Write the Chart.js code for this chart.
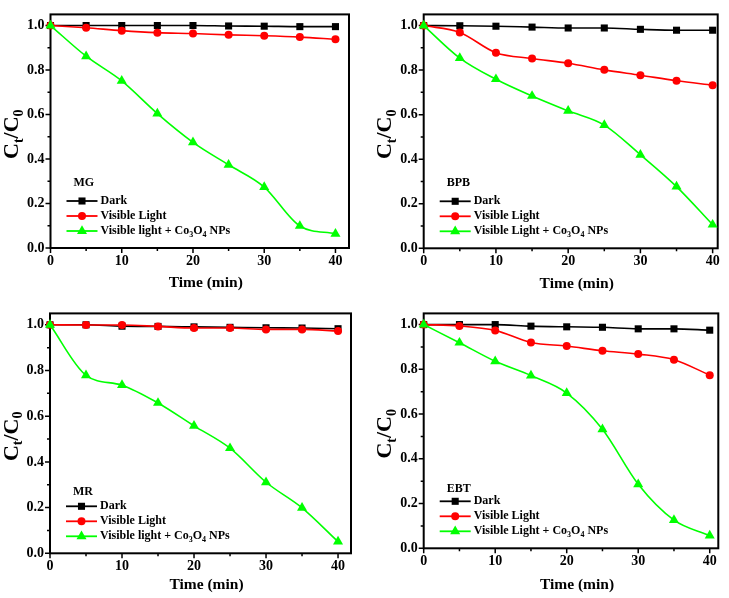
<!DOCTYPE html>
<html>
<head>
<meta charset="utf-8">
<script src="https://cdn.jsdelivr.net/npm/chart.js@4.4.0/dist/chart.umd.min.js"></script>
<style>
body { margin: 0; background: #fff; }
#wrap { position: relative; width: 729px; height: 598px; overflow: hidden; }
canvas { position: absolute; }
</style>
</head>
<body>
<div id="wrap">
<canvas id="pMG" width="364" height="299" style="left:0;top:0"></canvas>
<canvas id="pBPB" width="364" height="299" style="left:365px;top:0"></canvas>
<canvas id="pMR" width="364" height="299" style="left:0;top:299px"></canvas>
<canvas id="pEBT" width="364" height="299" style="left:365px;top:299px"></canvas>
</div>
<script>
const times = [0, 5, 10, 15, 20, 25, 30, 35, 40];

const mgDark = [1.0, 1.0, 1.0, 1.0, 1.0, 0.998, 0.997, 0.995, 0.995];
const mgLight = [1.0, 0.99, 0.977, 0.968, 0.964, 0.958, 0.954, 0.948, 0.938];
const mgCatalyst = [1.0, 0.862, 0.751, 0.604, 0.475, 0.374, 0.274, 0.099, 0.064];

const bpbDark = [1.0, 0.999, 0.997, 0.993, 0.989, 0.989, 0.983, 0.979, 0.979];
const bpbLight = [1.0, 0.969, 0.878, 0.852, 0.831, 0.801, 0.777, 0.752, 0.732];
const bpbCatalyst = [1.0, 0.854, 0.759, 0.684, 0.617, 0.553, 0.42, 0.277, 0.106];

const mrDark = [1.0, 1.0, 0.994, 0.993, 0.991, 0.989, 0.987, 0.986, 0.983];
const mrLight = [1.0, 0.999, 0.999, 0.993, 0.986, 0.986, 0.98, 0.98, 0.973];
const mrCatalyst = [1.0, 0.779, 0.736, 0.658, 0.558, 0.46, 0.311, 0.199, 0.051];

const ebtDark = [1.0, 1.0, 1.0, 0.993, 0.99, 0.988, 0.981, 0.981, 0.975];
const ebtLight = [1.0, 0.994, 0.974, 0.92, 0.904, 0.883, 0.868, 0.843, 0.774];
const ebtCatalyst = [1.0, 0.919, 0.836, 0.772, 0.694, 0.532, 0.286, 0.126, 0.057];

const xTicks = [0, 10, 20, 30, 40];
const xMinorTicks = [5, 15, 25, 35];
const yTicks = [0, 0.2, 0.4, 0.6, 0.8, 1.0];
const yMinorTicks = [0.1, 0.3, 0.5, 0.7, 0.9];

const xTitle = 'Time (min)';
const yTitle = 'C_{t}/C_{0}';
const darkLabel = 'Dark';
const lightLabel = 'Visible Light';

const FONT = '"Liberation Serif", "Times New Roman", serif';

function richText(ctx, str, x, y, size, draw) {
    let cx = x;
    str.split(/(_\{[^}]*\})/).forEach(p => {
        if (!p) return;
        if (p.startsWith('_{')) {
            let t = p.slice(2, -1);
            ctx.font = `bold ${Math.round(size * 0.64)}px ${FONT}`;
            if (draw) ctx.fillText(t, cx, y + size * 0.3);
            cx += ctx.measureText(t).width;
        } else {
            ctx.font = `bold ${size}px ${FONT}`;
            if (draw) ctx.fillText(p, cx, y);
            cx += ctx.measureText(p).width;
        }
    });
    return cx - x;
}

function marker(ctx, style, x, y, r, color) {
    ctx.fillStyle = color;
    ctx.beginPath();
    if (style === 'rect') {
        let s = Math.SQRT1_2 * r;
        ctx.rect(x - s, y - s, 2 * s, 2 * s);
    } else if (style === 'circle') {
        ctx.arc(x, y, r, 0, Math.PI * 2);
    } else {
        ctx.moveTo(x, y - r);
        ctx.lineTo(x + r * 0.866, y + r / 2);
        ctx.lineTo(x - r * 0.866, y + r / 2);
        ctx.closePath();
    }
    ctx.fill();
}

const panelDeco = {
    id: 'panelDeco',
    beforeDatasetsDraw(chart) {
        const { ctx, chartArea: a, scales: { x, y } } = chart;
        ctx.save();
        ctx.strokeStyle = '#000';
        ctx.lineWidth = 1.5;
        ctx.beginPath();
        xTicks.forEach(v => { let px = x.getPixelForValue(v); ctx.moveTo(px, a.bottom); ctx.lineTo(px, a.bottom + 5); });
        xMinorTicks.forEach(v => { let px = x.getPixelForValue(v); ctx.moveTo(px, a.bottom); ctx.lineTo(px, a.bottom + 3); });
        yTicks.forEach(v => { let py = y.getPixelForValue(v); ctx.moveTo(a.left, py); ctx.lineTo(a.left - 5, py); });
        yMinorTicks.forEach(v => { let py = y.getPixelForValue(v); ctx.moveTo(a.left, py); ctx.lineTo(a.left - 3, py); });
        ctx.stroke();
        ctx.lineWidth = 2;
        ctx.strokeRect(a.left, a.top, a.right - a.left, a.bottom - a.top);
        ctx.restore();
    },
    afterDraw(chart, args, opts) {
        const { ctx, chartArea: a } = chart;
        ctx.save();
        ctx.fillStyle = '#000';
        ctx.textBaseline = 'middle';

        // axis titles
        let w = richText(ctx, xTitle, 0, 0, 15.5, false);
        richText(ctx, xTitle, (a.left + a.right) / 2 + 6 - w / 2, a.bottom + opts.xTitleGap, 15.5, true);
        ctx.save();
        ctx.translate(a.left - 38, (a.top + a.bottom) / 2 + 3);
        ctx.rotate(-Math.PI / 2);
        w = richText(ctx, yTitle, 0, 0, 22, false);
        richText(ctx, yTitle, -w / 2, 0, 22, true);
        ctx.restore();

        // legend inside the plot
        let lx = a.left + 16;
        ctx.fillStyle = '#000';
        richText(ctx, opts.name, lx + 7, a.bottom - opts.nameGap, 12, true);
        chart.data.datasets.forEach((ds, i) => {
            let ly = a.bottom - 47 + i * 15;
            ctx.strokeStyle = ds.borderColor;
            ctx.lineWidth = 1.8;
            ctx.beginPath();
            ctx.moveTo(lx, ly);
            ctx.lineTo(lx + 31, ly);
            ctx.stroke();
            marker(ctx, ds.pointStyle, lx + 15.5, ly, ds.pointRadius, ds.borderColor);
            ctx.fillStyle = '#000';
            richText(ctx, ds.label, lx + 34, ly, 12, true);
        });
        ctx.restore();
    }
};

function pts(vals) {
    return times.map((t, i) => ({ x: t, y: vals[i] }));
}

function makePanel(id, p) {
    const data = {
        datasets: [
            { label: darkLabel, data: pts(p.dark), borderColor: '#000000', backgroundColor: '#000000', pointStyle: 'rect', pointRadius: 5, order: 3 },
            { label: lightLabel, data: pts(p.light), borderColor: '#ff0000', backgroundColor: '#ff0000', pointStyle: 'circle', pointRadius: 4, order: 2 },
            { label: p.catLabel, data: pts(p.cat), borderColor: '#00ff00', backgroundColor: '#00ff00', pointStyle: 'triangle', pointRadius: 5.8, order: 1 }
        ]
    };
    data.datasets.forEach(ds => {
        ds.borderWidth = 1.6;
        ds.pointBorderWidth = 0;
        ds.cubicInterpolationMode = 'monotone';
        ds.clip = false;
    });

    const config = {
        type: 'line',
        data: data,
        options: {
            responsive: false,
            animation: false,
            events: [],
            layout: { padding: { left: 0, top: p.area.top, right: 364 - p.area.right, bottom: 0 } },
            plugins: {
                legend: { display: false },
                tooltip: { enabled: false },
                panelDeco: { name: p.name, nameGap: p.nameGap, xTitleGap: p.xTitleGap }
            },
            scales: {
                x: {
                    type: 'linear',
                    min: 0,
                    max: p.xMax,
                    afterBuildTicks: s => { s.ticks = xTicks.map(v => ({ value: v })); },
                    afterFit: s => { s.height = 299 - p.area.bottom; },
                    grid: { display: false, drawTicks: false },
                    border: { display: false },
                    ticks: { color: '#000', padding: 5, maxRotation: 0, font: { family: FONT, size: 14, weight: 'bold' } }
                },
                y: {
                    min: 0,
                    max: 1.05,
                    afterBuildTicks: s => { s.ticks = yTicks.map(v => ({ value: v })); },
                    afterFit: s => { s.width = p.area.left; },
                    grid: { display: false, drawTicks: false },
                    border: { display: false },
                    ticks: { color: '#000', padding: 6, callback: v => v.toFixed(1), font: { family: FONT, size: 14, weight: 'bold' } }
                }
            }
        },
        plugins: [panelDeco]
    };

    return new Chart(document.getElementById(id), config);
}

makePanel('pMG', {
    name: 'MG', dark: mgDark, light: mgLight, cat: mgCatalyst,
    catLabel: 'Visible light + Co_{3}O_{4} NPs',
    xMax: 41.9, nameGap: 65, xTitleGap: 35,
    area: { left: 50.5, right: 349, top: 5, bottom: 248 }
});
makePanel('pBPB', {
    name: 'BPB', dark: bpbDark, light: bpbLight, cat: bpbCatalyst,
    catLabel: 'Visible Light + Co_{3}O_{4} NPs',
    xMax: 40.7, nameGap: 65, xTitleGap: 36,
    area: { left: 58.7, right: 352.7, top: 3, bottom: 248.3 }
});
makePanel('pMR', {
    name: 'MR', dark: mrDark, light: mrLight, cat: mrCatalyst,
    catLabel: 'Visible light + Co_{3}O_{4} NPs',
    xMax: 41.8, nameGap: 61, xTitleGap: 32,
    area: { left: 50, right: 351, top: 7, bottom: 254.3 }
});
makePanel('pEBT', {
    name: 'EBT', dark: ebtDark, light: ebtLight, cat: ebtCatalyst,
    catLabel: 'Visible Light + Co_{3}O_{4} NPs',
    xMax: 41.2, nameGap: 59, xTitleGap: 37,
    area: { left: 58.7, right: 353.3, top: 6, bottom: 249.3 }
});
</script>
</body>
</html>
